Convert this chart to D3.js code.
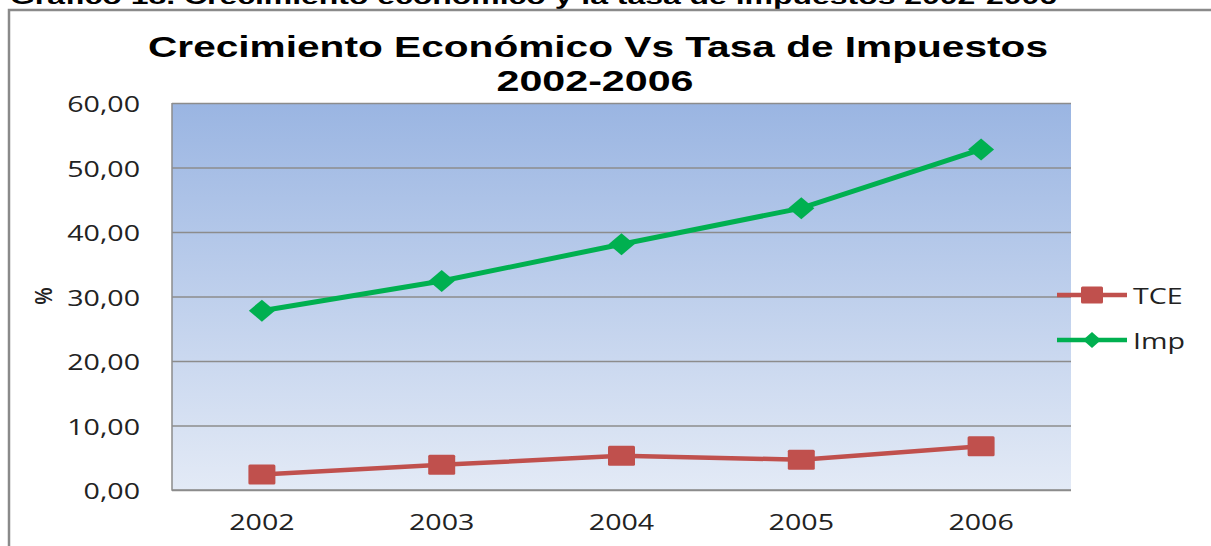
<!DOCTYPE html>
<html>
<head>
<meta charset="utf-8">
<script src="https://cdn.jsdelivr.net/npm/d3@7"></script>
<style>
  body { margin: 0; background: #fff; }
</style>
</head>
<body>
<div id="chart"></div>
<script>
// data
const years = ["2002", "2003", "2004", "2005", "2006"];
const tce = [2.4, 3.9, 5.3, 4.7, 6.8];
const imp = [27.8, 32.4, 38.1, 43.7, 52.8];
const yTicks = [0, 10, 20, 30, 40, 50, 60];
const seriesNames = ["TCE", "Imp"];

const width = 1211, height = 546;
const sx = 1.3; // the original picture is stretched sideways
const plot = {left: 172, right: 1071, top: 103, bottom: 490};
const red = "#C0504D", green = "#00B050";
const labelFont = "'Open Sans', sans-serif";

const svg = d3.select("#chart").append("svg")
    .attr("width", width)
    .attr("height", height);

// caption cut at top of the page
svg.append("text")
    .attr("x", 10).attr("y", 4)
    .attr("font-family", "'Liberation Sans', Arial, sans-serif")
    .attr("font-weight", "bold")
    .attr("font-size", 22)
    .attr("textLength", 1047)
    .attr("lengthAdjust", "spacingAndGlyphs")
    .text("Gráfico 18. Crecimiento económico y la tasa de impuestos 2002-2006");

// frame
svg.append("path")
    .attr("d", `M9,${height} V10 H${width}`)
    .attr("fill", "none")
    .attr("stroke", "#8a8a8a")
    .attr("stroke-width", 2.5);

// title
const title = svg.append("g")
    .attr("font-family", "'Liberation Sans', Arial, sans-serif")
    .attr("font-weight", "bold")
    .attr("font-size", 29)
    .attr("text-anchor", "middle");
title.append("text").attr("x", 598).attr("y", 57)
    .attr("textLength", 900).attr("lengthAdjust", "spacingAndGlyphs")
    .text("Crecimiento Económico Vs Tasa de Impuestos");
title.append("text").attr("x", 595).attr("y", 91)
    .attr("textLength", 197).attr("lengthAdjust", "spacingAndGlyphs")
    .text("2002-2006");

const x = d3.scalePoint().domain(years).range([plot.left, plot.right]).padding(0.5);
const y = d3.scaleLinear().domain([0, 60]).range([plot.bottom, plot.top]);
const fmt = v => d3.format(".2f")(v).replace(".", ",");

// plot background
const grad = svg.append("defs").append("linearGradient")
    .attr("id", "bg").attr("x1", 0).attr("y1", 0).attr("x2", 0).attr("y2", 1);
grad.append("stop").attr("offset", "0%").attr("stop-color", "#9AB5E2");
grad.append("stop").attr("offset", "100%").attr("stop-color", "#E3EAF6");

svg.append("rect")
    .attr("x", plot.left).attr("y", plot.top)
    .attr("width", plot.right - plot.left)
    .attr("height", plot.bottom - plot.top)
    .attr("fill", "url(#bg)");

// gridlines + y labels
const yAxis = svg.append("g")
    .attr("transform", `translate(${plot.left},0)`)
    .call(d3.axisLeft(y).tickValues(yTicks).tickSize(-(plot.right - plot.left)).tickFormat(fmt));
yAxis.select(".domain").remove();
yAxis.selectAll("line").attr("stroke", "#8c8c8c").attr("stroke-width", 1.5);
yAxis.selectAll("text")
    .attr("x", 0).attr("dy", null)
    .attr("dominant-baseline", "central")
    .attr("transform", `translate(-32,0) scale(${sx},1)`)
    .attr("font-family", labelFont)
    .attr("font-size", 22)
    .attr("fill", "#222");

// plot border (left + bottom)
svg.append("path")
    .attr("d", `M${plot.left},${plot.top} V${plot.bottom} H${plot.right}`)
    .attr("fill", "none")
    .attr("stroke", "#8c8c8c")
    .attr("stroke-width", 1.5);

// x labels
svg.append("g").selectAll("text")
    .data(years)
    .join("text")
    .attr("transform", d => `translate(${x(d)},530) scale(${sx},1)`)
    .attr("text-anchor", "middle")
    .attr("font-family", labelFont)
    .attr("font-size", 22)
    .attr("fill", "#222")
    .text(d => d);

// % label
svg.append("text")
    .attr("transform", `translate(52,296) scale(${sx},1) rotate(-90)`)
    .attr("text-anchor", "middle")
    .attr("font-family", "'Liberation Sans', Arial, sans-serif")
    .attr("font-weight", "bold")
    .attr("font-size", 19)
    .attr("fill", "#222")
    .text("%");

const line = d3.line().x((d, i) => x(years[i])).y(d => y(d));

const drawSquare = (g, w, h) => g.append("rect")
    .attr("x", -w / 2).attr("y", -h / 2).attr("width", w).attr("height", h)
    .attr("rx", 1.5).attr("fill", red);
const drawDiamond = (g, w, h) => g.append("path")
    .attr("d", `M0,${-h / 2} L${w / 2},0 L0,${h / 2} L${-w / 2},0 Z`)
    .attr("fill", green);

// TCE
svg.append("path").datum(tce)
    .attr("d", line).attr("fill", "none")
    .attr("stroke", red).attr("stroke-width", 4.5);
svg.append("g").selectAll("g").data(tce).join("g")
    .attr("transform", (d, i) => `translate(${x(years[i])},${y(d)})`)
    .each(function() { drawSquare(d3.select(this), 27, 20); });

// Imp
svg.append("path").datum(imp)
    .attr("d", line).attr("fill", "none")
    .attr("stroke", green).attr("stroke-width", 5);
svg.append("g").selectAll("g").data(imp).join("g")
    .attr("transform", (d, i) => `translate(${x(years[i])},${y(d)})`)
    .each(function() { drawDiamond(d3.select(this), 26, 22); });

// legend
const legend = svg.append("g").selectAll("g")
    .data(seriesNames)
    .join("g")
    .attr("transform", (d, i) => `translate(1057,${295 + i * 45})`);
legend.append("line")
    .attr("x1", 0).attr("x2", 70)
    .attr("stroke", (d, i) => i ? green : red)
    .attr("stroke-width", 4.5);
legend.each(function(d, i) {
  const g = d3.select(this).append("g").attr("transform", "translate(35,0)");
  if (i === 0) drawSquare(g, 22, 17); else drawDiamond(g, 18, 16);
});
legend.append("text")
    .attr("transform", `translate(76,0) scale(${sx},1)`)
    .attr("dominant-baseline", "central")
    .attr("font-family", labelFont)
    .attr("font-size", 22)
    .attr("fill", "#222")
    .text(d => d);
</script>
</body>
</html>
